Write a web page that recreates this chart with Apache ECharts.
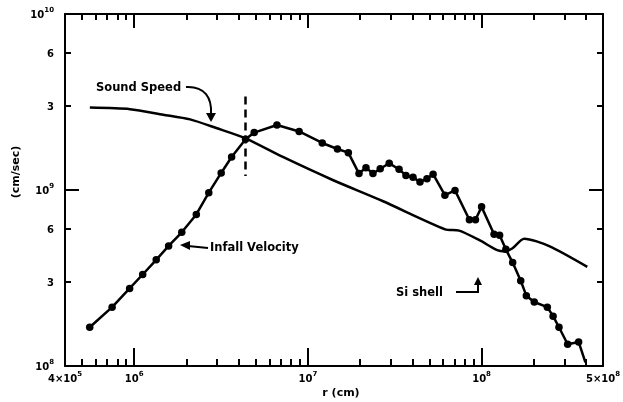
<!DOCTYPE html>
<html>
<head>
<meta charset="utf-8">
<script src="https://cdn.jsdelivr.net/npm/echarts@6/dist/echarts.min.js"></script>
<style>
  html, body { margin: 0; padding: 0; background: #fff; }
  #chart { width: 623px; height: 402px; }
</style>
</head>
<body>
<div id="chart"></div>
<script>
// Infall velocity profile: radius r (cm) and speed (cm/sec)
const infallR = [5.55e5, 7.47e5, 9.42e5, 1.12e6, 1.34e6, 1.58e6, 1.88e6, 2.28e6, 2.69e6, 3.17e6,
  3.64e6, 4.38e6, 4.91e6, 6.64e6, 8.91e6, 1.21e7, 1.48e7, 1.71e7, 1.97e7, 2.16e7,
  2.37e7, 2.61e7, 2.94e7, 3.35e7, 3.67e7, 4.03e7, 4.42e7, 4.85e7, 5.26e7, 6.15e7,
  7.03e7, 8.51e7, 9.22e7, 1.00e8, 1.18e8, 1.27e8, 1.38e8, 1.51e8, 1.68e8, 1.81e8,
  2.01e8, 2.39e8, 2.58e8, 2.79e8, 3.13e8, 3.62e8, 3.96e8];
const infallV = [1.66e8, 2.16e8, 2.76e8, 3.31e8, 4.01e8, 4.81e8, 5.75e8, 7.26e8, 9.66e8, 1.25e9,
  1.54e9, 1.94e9, 2.12e9, 2.34e9, 2.15e9, 1.85e9, 1.71e9, 1.63e9, 1.24e9, 1.34e9,
  1.24e9, 1.32e9, 1.42e9, 1.31e9, 1.21e9, 1.18e9, 1.11e9, 1.16e9, 1.23e9, 9.34e8,
  9.95e8, 6.78e8, 6.77e8, 8.02e8, 5.61e8, 5.54e8, 4.60e8, 3.87e8, 3.05e8, 2.51e8,
  2.31e8, 2.16e8, 1.92e8, 1.66e8, 1.33e8, 1.37e8, 1.05e8];

// Sound speed profile
const soundR = [5.56e5, 9.47e5, 1.47e6, 2.10e6, 2.97e6, 4.41e6, 7.18e6, 1.39e7, 2.69e7, 6.17e7,
  7.43e7, 9.68e7, 1.23e8, 1.36e8, 1.50e8, 1.76e8, 2.45e8, 4.06e8];
const soundV = [2.94e9, 2.88e9, 2.68e9, 2.52e9, 2.25e9, 1.96e9, 1.54e9, 1.14e9, 8.66e8, 5.98e8,
  5.88e8, 5.20e8, 4.55e8, 4.48e8, 4.65e8, 5.29e8, 4.80e8, 3.66e8];

// Sonic point marker (dashed vertical segment)
const sonicR = 4.35e6;
const sonicSpan = [3.4e9, 1.2e9];

// Axis extents and tick labels
const xRange = [4e5, 5e8];
const yRange = [1e8, 1e10];
const xLabelVals = [4e5, 1e6, 1e7, 1e8, 5e8];
const xLabelText = ['{b|4×10}{s|5}', '{b|10}{s|6}', '{b|10}{s|7}', '{b|10}{s|8}', '{b|5×10}{s|8}'];
const yLabelVals = [1e8, 3e8, 6e8, 1e9, 3e9, 6e9, 1e10];
const yLabelText = ['{b|10}{s|8}', '{b|3}', '{b|6}', '{b|10}{s|9}', '{b|3}', '{b|6}', '{b|10}{s|10}'];
const xMajorTicks = [1e6, 1e7, 1e8];
const yMajorTicks = [1e9];
const yMinorTicks = [3e8, 6e8, 3e9, 6e9];

const lg = Math.log10;
const FONT = 'DejaVu Sans';

// minor ticks at 2..9 x 10^n inside the x range
const xMinorTicks = [];
for (let n = 5; n <= 8; n++) {
  for (let k = 2; k <= 9; k++) {
    const v = k * Math.pow(10, n);
    if (v > xRange[0] && v < xRange[1]) xMinorTicks.push(v);
  }
}

const rich = {
  b: { fontFamily: FONT, fontWeight: 'bold', fontSize: 10, color: '#000', lineHeight: 12, verticalAlign: 'bottom' },
  s: { fontFamily: FONT, fontWeight: 'bold', fontSize: 7, color: '#000', lineHeight: 8, padding: [0, 0, 6, 0], verticalAlign: 'bottom' }
};

function labelFor(vals, texts) {
  return function (v) {
    for (let i = 0; i < vals.length; i++) {
      if (Math.abs(lg(vals[i]) - v) < 1e-6) return texts[i];
    }
    return '';
  };
}

const black = { color: '#000', width: 2 };

// overlay value axes carrying the custom ticks / labels (log10 space)
function tickAxis(pos, ticks, len, range, labels, showLine) {
  const ax = {
    type: 'value',
    position: pos,
    min: lg(range[0]),
    max: lg(range[1]),
    splitLine: { show: false },
    axisLine: { show: !!showLine, onZero: false, lineStyle: black },
    axisTick: { show: true, inside: true, length: len, customValues: ticks.map(lg), lineStyle: black },
    axisLabel: { show: false }
  };
  if (labels) {
    ax.axisLabel = {
      show: true,
      customValues: labels.vals.map(lg),
      formatter: labelFor(labels.vals, labels.texts),
      margin: labels.margin,
      rich: rich
    };
  }
  return ax;
}

const chart = echarts.init(document.getElementById('chart'), null, { renderer: 'canvas' });

const infallData = infallR.map(function (r, i) {
  const item = { value: [r, infallV[i]] };
  if (i === infallR.length - 1) item.symbol = 'none';
  return item;
});
const soundData = soundR.map(function (r, i) { return [r, soundV[i]]; });

const annoFont = 'bold 11.5px "DejaVu Sans"';

chart.setOption({
  animation: false,
  backgroundColor: '#fff',
  grid: { left: 65, right: 20, top: 14, bottom: 36, outerBoundsMode: 'none', containLabel: false },
  xAxis: [
    {
      type: 'log', logBase: 10, min: xRange[0], max: xRange[1], position: 'bottom',
      axisLine: { show: true, onZero: false, lineStyle: black },
      axisTick: { show: false }, axisLabel: { show: false }, splitLine: { show: false }
    },
    tickAxis('bottom', xMajorTicks, 18, xRange, { vals: xLabelVals, texts: xLabelText, margin: 6 }),
    tickAxis('bottom', xMinorTicks, 7, xRange),
    tickAxis('top', xMajorTicks, 14, xRange, null, true),
    tickAxis('top', xMinorTicks, 6, xRange)
  ],
  yAxis: [
    {
      type: 'log', logBase: 10, min: yRange[0], max: yRange[1], position: 'left',
      axisLine: { show: true, onZero: false, lineStyle: black },
      axisTick: { show: false }, axisLabel: { show: false }, splitLine: { show: false }
    },
    tickAxis('left', yMajorTicks, 14, yRange, { vals: yLabelVals, texts: yLabelText, margin: 11 }),
    tickAxis('left', yMinorTicks, 6, yRange),
    tickAxis('right', yMajorTicks, 14, yRange, null, true),
    tickAxis('right', yMinorTicks, 6, yRange)
  ],
  series: [
    {
      name: 'Infall Velocity',
      type: 'line',
      xAxisIndex: 0, yAxisIndex: 0,
      data: infallData,
      symbol: 'circle', symbolSize: 7.5,
      itemStyle: { color: '#000' },
      lineStyle: { color: '#000', width: 2.5 },
      markLine: {
        silent: true, symbol: 'none', label: { show: false },
        lineStyle: { color: '#000', width: 2.5, type: [8, 5] },
        data: [[{ coord: [sonicR, sonicSpan[0]] }, { coord: [sonicR, sonicSpan[1]] }]]
      }
    },
    {
      name: 'Sound Speed',
      type: 'line',
      xAxisIndex: 0, yAxisIndex: 0,
      data: soundData,
      showSymbol: false, smooth: 0.25,
      lineStyle: { color: '#000', width: 2.5 }
    }
  ],
  graphic: [
    // axis titles
    { type: 'text', x: 16, y: 172, rotation: Math.PI / 2,
      style: { text: '(cm/sec)', font: 'bold 11px "DejaVu Sans"', fill: '#000', textAlign: 'center', textVerticalAlign: 'middle' } },
    { type: 'text', x: 341, y: 393,
      style: { text: 'r (cm)', font: 'bold 11px "DejaVu Sans"', fill: '#000', textAlign: 'center', textVerticalAlign: 'middle' } },

    // Sound Speed annotation
    { type: 'text', x: 96, y: 88,
      style: { text: 'Sound Speed', font: annoFont, fill: '#000', textAlign: 'left', textVerticalAlign: 'middle' } },
    { type: 'bezierCurve',
      shape: { x1: 186, y1: 87, cpx1: 205, cpy1: 86, cpx2: 212, cpy2: 98, x2: 211, y2: 114 },
      style: { stroke: '#000', lineWidth: 2, fill: null } },
    { type: 'polygon', shape: { points: [[206, 113], [216, 113], [211, 122]] }, style: { fill: '#000' } },

    // Infall Velocity annotation
    { type: 'text', x: 210, y: 248,
      style: { text: 'Infall Velocity', font: annoFont, fill: '#000', textAlign: 'left', textVerticalAlign: 'middle' } },
    { type: 'polyline', shape: { points: [[208, 248], [188, 246]] }, style: { stroke: '#000', lineWidth: 2, fill: null } },
    { type: 'polygon', shape: { points: [[180, 245], [190, 241], [190, 250]] }, style: { fill: '#000' } },

    // Si shell annotation
    { type: 'text', x: 396, y: 293,
      style: { text: 'Si shell', font: annoFont, fill: '#000', textAlign: 'left', textVerticalAlign: 'middle' } },
    { type: 'polyline', shape: { points: [[456, 292], [478, 292], [478, 283]] }, style: { stroke: '#000', lineWidth: 2, fill: null } },
    { type: 'polygon', shape: { points: [[474, 285], [482, 285], [478, 277]] }, style: { fill: '#000' } }
  ]
});
</script>
</body>
</html>
